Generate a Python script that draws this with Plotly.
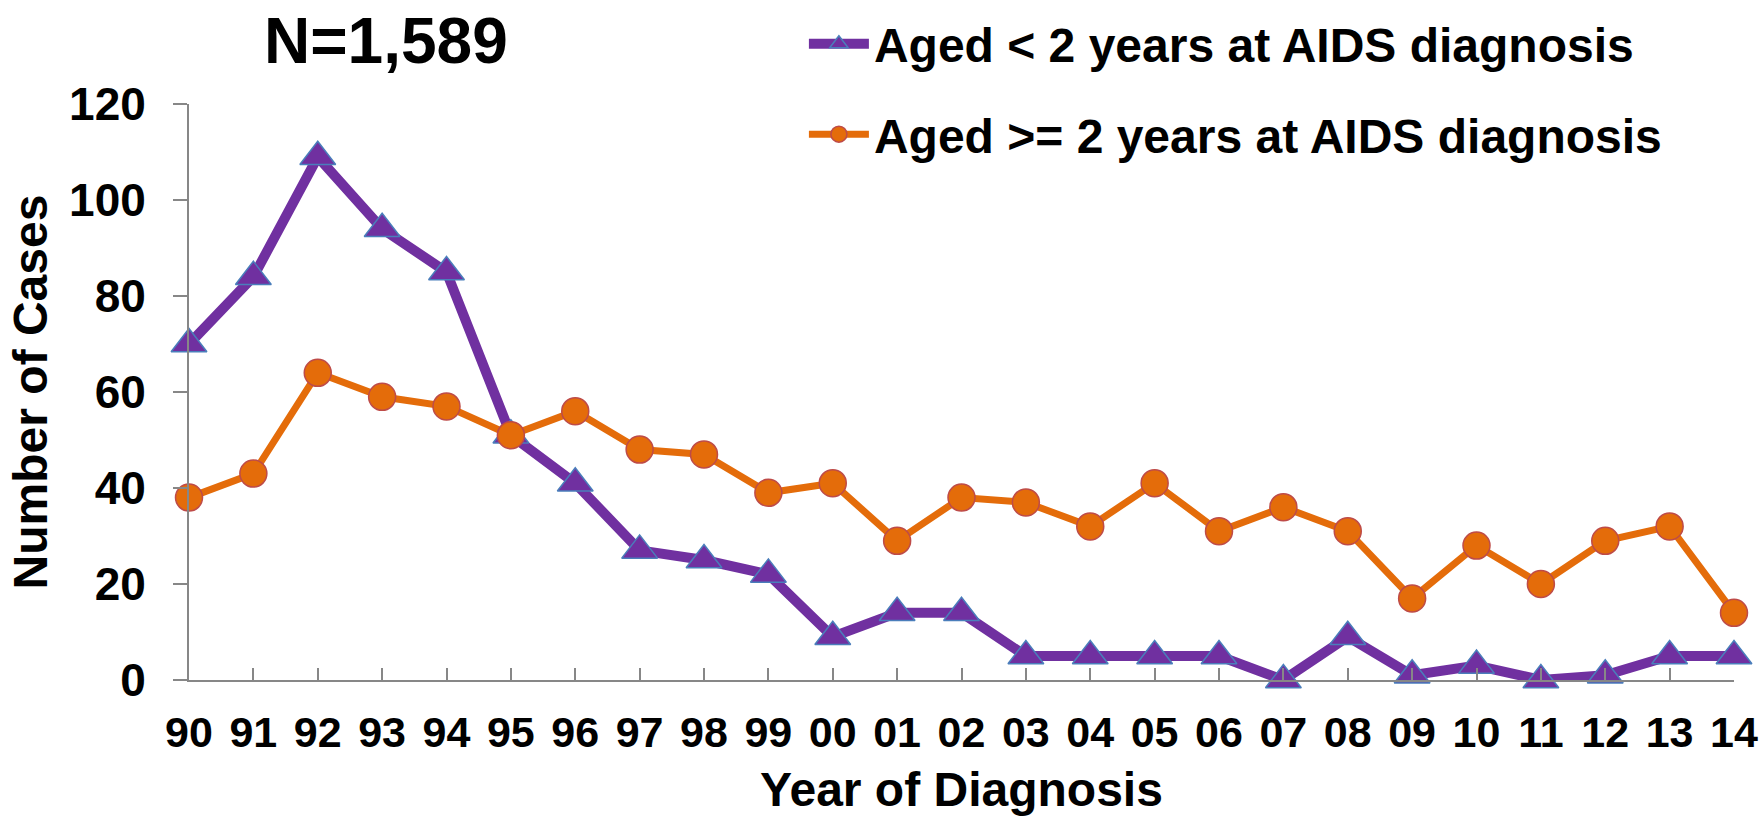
import plotly.graph_objects as go

years = ["90", "91", "92", "93", "94", "95", "96", "97", "98", "99", "00", "01",
         "02", "03", "04", "05", "06", "07", "08", "09", "10", "11", "12", "13", "14"]
under2 = [70, 84, 109, 94, 85, 51, 41, 27, 25, 22, 9, 14, 14, 5, 5, 5, 5, 0, 9, 1, 3, 0, 1, 5, 5]
over2 = [38, 43, 64, 59, 57, 51, 56, 48, 47, 39, 41, 29, 38, 37, 32, 41, 31, 36, 31, 17, 28, 20, 29, 32, 14]
name_under2 = "Aged < 2 years at AIDS diagnosis"
name_over2 = "Aged >= 2 years at AIDS diagnosis"
title_text = "N=1,589"
y_ticks = [0, 20, 40, 60, 80, 100, 120]

FONT = "Liberation Sans, Arial, sans-serif"
PURPLE = "#7030A0"
ORANGE = "#E46C0A"
xpos = list(range(len(years)))

fig = go.Figure()
fig.add_trace(go.Scatter(
    x=xpos, y=under2, name=name_under2, mode="lines+markers",
    line=dict(color=PURPLE, width=10),
    marker=dict(symbol="triangle-up", size=31, color=PURPLE,
                line=dict(color="#4A7EBB", width=1.5)),
    cliponaxis=False, legendgroup="a",
))
fig.add_trace(go.Scatter(
    x=xpos, y=over2, name=name_over2, mode="lines+markers",
    line=dict(color=ORANGE, width=7),
    marker=dict(symbol="circle", size=27, color=ORANGE,
                line=dict(color="#BE4B48", width=1.5)),
    cliponaxis=False, legendgroup="b",
))

fig.update_layout(
    width=1760, height=816,
    margin=dict(l=189, r=26, t=104, b=136, autoexpand=False),
    paper_bgcolor="white", plot_bgcolor="white",
    font=dict(family=FONT, color="black", size=43, weight="bold"),
    showlegend=True,
    legend=dict(
        x=0.398, xanchor="left", xref="paper",
        y=0.9926, yanchor="top", yref="container",
        font=dict(family=FONT, size=48, color="black", weight="bold"),
        tracegroupgap=25, bgcolor="rgba(0,0,0,0)", itemwidth=60,
    ),
    annotations=[dict(
        text=title_text, xref="paper", yref="paper",
        x=0.1275, y=1.109, xanchor="center", yanchor="middle",
        showarrow=False,
        font=dict(family=FONT, size=64, color="black", weight="bold"),
    )],
)

fig.update_xaxes(
    range=[0, len(years) - 1], automargin=False,
    tickmode="array", tickvals=xpos, ticktext=years,
    showgrid=False, zeroline=False,
    showline=True, linecolor="#878787", linewidth=2,
    ticks="inside", ticklen=12, tickwidth=2, tickcolor="#878787",
    ticklabelstandoff=13,
    tickfont=dict(family=FONT, size=43, color="black", weight="bold"),
    title=dict(text="Year of Diagnosis", standoff=25,
               font=dict(family=FONT, size=48, color="black", weight="bold")),
)
fig.update_yaxes(
    range=[0, 120], automargin=False,
    tickmode="array", tickvals=y_ticks,
    showgrid=False, zeroline=False,
    showline=True, linecolor="#878787", linewidth=2,
    ticks="outside", ticklen=14, tickwidth=2, tickcolor="#878787",
    ticklabelstandoff=18,
    tickfont=dict(family=FONT, size=46, color="black", weight="bold"),
    title=dict(text="Number of Cases", standoff=6,
               font=dict(family=FONT, size=48, color="black", weight="bold")),
)

fig.write_html("out.html", post_script="document.body.style.margin='0';",
               config={"displayModeBar": False})
